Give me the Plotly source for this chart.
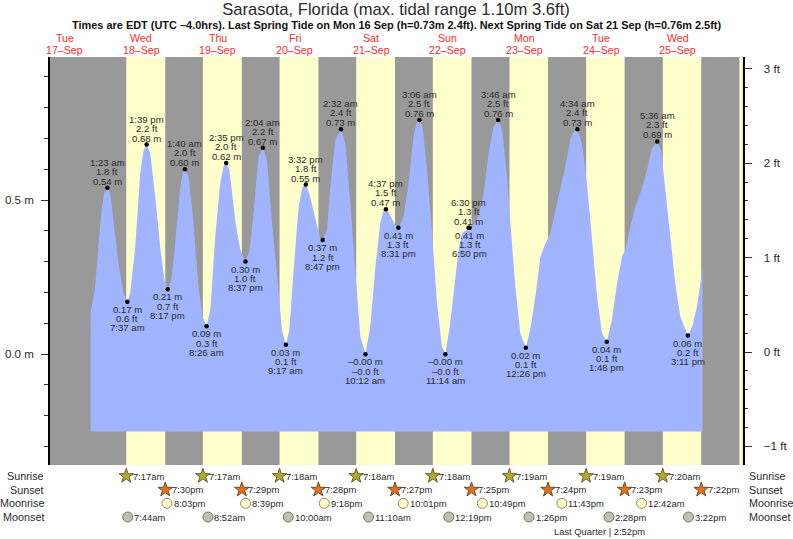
import plotly.graph_objects as go

# time unit: hours since 17 Sep 00:00; heights in metres
tide_h = [20.1,21.55,22.6,23.65,24.4,25.38,26.25,27.3,28.85,30.4,31.62,32.5,34.1,35.65,36.7,37.65,38.78,40.35,41.9,43.25,44.28,45.35,46.6,48.2,49.05,49.67,50.8,52.35,53.9,55.2,56.43,57.6,59.15,60.7,61.75,62.58,63.6,65.4,67,68.62,69.9,71.15,72.7,74.07,75.35,76.9,78.5,80.05,81.28,82.35,83.7,85.25,86.5,87.53,88.6,90.5,92,92.78,94.15,95.2,96.75,98.53,99.9,101.45,103,104.6,106.2,107.7,109.3,110.85,111.9,112.62,113.95,115.5,116.52,118.15,119.7,121.25,122.35,123.1,124.1,125.5,127,128.6,130.15,131.23,132.75,134.35,135.35,136.45,138.5,138.83,140.05,141.6,143.2,144.75,146.3,147.77,149,150.55,151.6,153.15,154.7,156.43,157.8,159.4,161,162.55,164.1,165.7,167.25,168.8,170.35,171.4,172.57,174,175.6,177.15,178.75,180.3,181.8,183.4,185,186.55,187.6,189.15,190.7,192.8,194.4,195.95,197.6,198.8,200.1,201.7,203.25,204.85,207.18,208.55,210.05,211.8]
tide_m = [0.132,0.219,0.36,0.478,0.523,0.54,0.523,0.435,0.295,0.198,0.17,0.198,0.348,0.588,0.66,0.68,0.653,0.511,0.348,0.24,0.21,0.24,0.36,0.543,0.592,0.6,0.576,0.425,0.219,0.121,0.09,0.143,0.381,0.554,0.608,0.62,0.597,0.435,0.338,0.3,0.338,0.458,0.641,0.67,0.63,0.435,0.24,0.078,0.03,0.078,0.273,0.478,0.543,0.55,0.522,0.435,0.376,0.37,0.403,0.543,0.695,0.73,0.685,0.49,0.273,0.056,0.0,0.089,0.283,0.425,0.468,0.47,0.451,0.419,0.41,0.446,0.554,0.706,0.754,0.76,0.738,0.597,0.403,0.166,0.024,0.0,0.1,0.251,0.338,0.393,0.41,0.41,0.419,0.446,0.522,0.652,0.738,0.76,0.727,0.576,0.425,0.219,0.067,0.02,0.078,0.186,0.316,0.359,0.392,0.468,0.532,0.608,0.695,0.722,0.73,0.684,0.554,0.359,0.186,0.067,0.04,0.11,0.23,0.316,0.338,0.413,0.478,0.538,0.597,0.668,0.69,0.662,0.532,0.381,0.23,0.121,0.06,0.089,0.154,0.283]
tide_floor_m = -0.252

ext_h = [25.38,31.62,37.65,44.28,49.67,56.43,62.58,68.62,74.07,81.28,87.53,92.78,98.53,106.2,112.62,116.52,123.1,131.23,138.5,138.83,147.77,156.43,172.57,181.8,197.6,207.18]
ext_m = [0.54,0.17,0.68,0.21,0.60,0.09,0.62,0.30,0.67,0.03,0.55,0.37,0.73,-0.001,0.47,0.41,0.76,-0.001,0.41,0.41,0.76,0.02,0.73,0.04,0.69,0.06]
ext_m_txt = ["0.54 m","0.17 m","0.68 m","0.21 m","0.60 m","0.09 m","0.62 m","0.30 m","0.67 m","0.03 m","0.55 m","0.37 m","0.73 m","–0.00 m","0.47 m","0.41 m","0.76 m","–0.00 m","0.41 m","0.41 m","0.76 m","0.02 m","0.73 m","0.04 m","0.69 m","0.06 m"]
ext_ft_txt = ["1.8 ft","0.6 ft","2.2 ft","0.7 ft","2.0 ft","0.3 ft","2.0 ft","1.0 ft","2.2 ft","0.1 ft","1.8 ft","1.2 ft","2.4 ft","–0.0 ft","1.5 ft","1.3 ft","2.5 ft","–0.0 ft","1.3 ft","1.3 ft","2.5 ft","0.1 ft","2.4 ft","0.1 ft","2.3 ft","0.2 ft"]
ext_time = ["1:23 am","7:37 am","1:39 pm","8:17 pm","1:40 am","8:26 am","2:35 pm","8:37 pm","2:04 am","9:17 am","3:32 pm","8:47 pm","2:32 am","10:12 am","4:37 pm","8:31 pm","3:06 am","11:14 am","6:30 pm","6:50 pm","3:46 am","12:26 pm","4:34 am","1:48 pm","5:36 am","3:11 pm"]
ext_high = [1,0,1,0,1,0,1,0,1,0,1,0,1,0,1,0,1,0,1,0,1,0,1,0,1,0]

day_h = [12,36,60,84,108,132,156,180,204]
day_names = ["Tue","Wed","Thu","Fri","Sat","Sun","Mon","Tue","Wed"]
day_dates = ["17–Sep","18–Sep","19–Sep","20–Sep","21–Sep","22–Sep","23–Sep","24–Sep","25–Sep"]

sunrise_h = [31.28,55.28,79.3,103.3,127.3,151.32,175.32,199.33]
sunrise_t = ["7:17am","7:17am","7:18am","7:18am","7:18am","7:19am","7:19am","7:20am"]
sunset_h = [43.5,67.48,91.47,115.45,139.42,163.4,187.38,211.37]
sunset_t = ["7:30pm","7:29pm","7:28pm","7:27pm","7:25pm","7:24pm","7:23pm","7:22pm"]
moonrise_h = [44.05,68.65,93.3,118.02,142.82,167.72,192.7]
moonrise_t = ["8:03pm","8:39pm","9:18pm","10:01pm","10:49pm","11:43pm","12:42am"]
moonset_h = [31.73,56.87,82.0,107.17,132.32,157.43,182.47,207.37]
moonset_t = ["7:44am","8:52am","10:00am","11:10am","12:19pm","1:26pm","2:28pm","3:22pm"]
row_names = ["Sunrise","Sunset","Moonrise","Moonset"]

day_start_h = sunrise_h + [223.33]
day_end_h = sunset_h + [235.0]

W, H = 793, 539
X0, X1, Y0, Y1 = 49.7, 742.5, 57, 465
TXT = "#2a2a2a"

fig = go.Figure()
fig.add_trace(go.Scatter(x=[tide_h[0], tide_h[-1]], y=[tide_floor_m]*2, mode="lines",
                         line=dict(width=0), hoverinfo="skip", xaxis="x", yaxis="y"))
fig.add_trace(go.Scatter(x=tide_h, y=tide_m, mode="lines", line=dict(width=0, color="#a0b4ff"),
                         fill="tonexty", fillcolor="#a0b4ff", xaxis="x", yaxis="y"))
fig.add_trace(go.Scatter(x=ext_h, y=ext_m, mode="markers", marker=dict(color="black", size=4.5),
                         xaxis="x", yaxis="y"))
# dummy trace so the right hand axis is drawn
fig.add_trace(go.Scatter(x=[ext_h[0]], y=[0], mode="markers", marker=dict(opacity=0), xaxis="x", yaxis="y2"))

def icon(xs, row, symbol, fill, edge, size, width=1):
    fig.add_trace(go.Scatter(x=xs, y=[row]*len(xs), mode="markers", xaxis="x", yaxis="y3",
                             cliponaxis=False,
                             marker=dict(symbol=symbol, size=size, color=fill, line=dict(color=edge, width=width))))

icon(sunrise_h, 0, "star", "#b0a830", "#6e5f28", 11)
icon(sunrise_h, 0, "pentagon", "#b0a830", "#b0a830", 7, 0)
icon(sunset_h, 1, "star", "#e07020", "#6e4a28", 11)
icon(sunset_h, 1, "pentagon", "#e07020", "#e07020", 7, 0)
icon(moonrise_h, 2, "circle", "#ffffcc", "#8a8a70", 10)
icon(moonset_h, 3, "circle", "#c0c0b0", "#77776a", 10)

ann = []
for h, hi, a, b, c in zip(ext_h, ext_high, ext_m_txt, ext_ft_txt, ext_time):
    if hi:
        lines = [(a, 6.5), (b, 16.5), (c, 25.5)]
    else:
        lines = [(a, -7.5), (b, -17), (c, -26)]
    y = ext_m[ext_h.index(h)]
    for t, s in lines:
        ann.append(dict(x=h, y=y, xref="x", yref="y", text=t, showarrow=False, yshift=s,
                        xanchor="center", yanchor="middle", font=dict(size=9.6, color=TXT)))

for h, a, b in zip(day_h, day_names, day_dates):
    for t, py in ((a, 37.5), (b, 50.3)):
        ann.append(dict(x=h, y=1 - py / H, xref="x", yref="paper", text=t, showarrow=False,
                        xanchor="center", yanchor="middle", font=dict(size=10.6, color="#ff2a2a")))

for row, (xs, ts) in enumerate(((sunrise_h, sunrise_t), (sunset_h, sunset_t),
                                (moonrise_h, moonrise_t), (moonset_h, moonset_t))):
    for h, t in zip(xs, ts):
        ann.append(dict(x=h, y=row, xref="x", yref="y3", text=t, showarrow=False, xshift=4.5,
                        xanchor="left", yanchor="middle", font=dict(size=9.4, color=TXT)))
    ann.append(dict(x=45.5 / W, y=row, xref="paper", yref="y3", text=row_names[row], showarrow=False,
                    xanchor="right", yanchor="middle", font=dict(size=10.8, color=TXT)))
    ann.append(dict(x=746.5 / W, y=row, xref="paper", yref="y3", text=row_names[row], showarrow=False,
                    xanchor="left", yanchor="middle", font=dict(size=10.8, color=TXT)))

ann.append(dict(x=599 / W, y=1 - 531 / H, xref="paper", yref="paper", text="Last Quarter | 2:52pm",
                showarrow=False, xanchor="center", yanchor="middle", font=dict(size=9.4, color=TXT)))
ann.append(dict(x=396 / W, y=1 - 25.5 / H, xref="paper", yref="paper",
                text="<b>Times are EDT (UTC –4.0hrs). Last Spring Tide on Mon 16 Sep (h=0.73m 2.4ft). Next Spring Tide on Sat 21 Sep (h=0.76m 2.5ft)</b>",
                showarrow=False, xanchor="center", yanchor="middle", font=dict(size=10.95, color="#111111")))

# grey night background over the main panel only, yellow daylight bands on top of it
shapes = [dict(type="rect", layer="below", xref="x domain", yref="y domain", x0=0, x1=1, y0=0, y1=1,
               fillcolor="#999999", line=dict(width=0))]
shapes += [dict(type="rect", layer="below", xref="x", yref="y domain", x0=a, x1=b, y0=0, y1=1,
                fillcolor="#ffffcc", line=dict(width=0))
           for a, b in zip(day_start_h, day_end_h)]

fig.update_layout(
    width=W, height=H, autosize=False, showlegend=False, hovermode=False,
    margin=dict(l=0, r=0, t=0, b=0), paper_bgcolor="white", plot_bgcolor="white",
    font=dict(family="Liberation Sans, Arial, sans-serif", color=TXT),
    title=dict(text="Sarasota, Florida (max. tidal range 1.10m 3.6ft)", x=396 / W, xanchor="center",
               y=1 - 9.5 / H, yanchor="middle", font=dict(size=16.6, color=TXT)),
    xaxis=dict(domain=[X0 / W, X1 / W], range=[7.3, 224.3], visible=False, fixedrange=True, anchor="y"),
    yaxis=dict(domain=[1 - Y1 / H, 1 - Y0 / H], range=[(354 - Y1) / 308, (354 - Y0) / 308],
               tickmode="linear", tick0=0, dtick=0.5, tickformat=".1f", ticksuffix=" m",
               ticks="outside", ticklen=6.5, tickwidth=1,
               tickcolor="#333333", tickfont=dict(size=11.6, color=TXT), showgrid=False, zeroline=False,
               ticklabelstandoff=5,
               showline=True, linewidth=2, linecolor="black", anchor="x",
               minor=dict(tickmode="linear", tick0=0, dtick=0.1, ticks="outside", ticklen=3.5, tickwidth=1, tickcolor="#333333", showgrid=False)),
    yaxis2=dict(domain=[1 - Y1 / H, 1 - Y0 / H], range=[(352 - Y1) / 94.4, (352 - Y0) / 94.4], overlaying="y",
                side="right", anchor="x", tickmode="linear", tick0=0, dtick=1, ticksuffix=" ft",
                ticks="outside", ticklen=7, tickwidth=1, tickcolor="#333333", tickfont=dict(size=11.6, color=TXT),
                ticklabelstandoff=10,
                showgrid=False, zeroline=False, showline=True, linewidth=2, linecolor="black",
                minor=dict(tickmode="linear", tick0=0, dtick=0.2, ticks="outside", ticklen=3.5, tickwidth=1, tickcolor="#333333", showgrid=False)),
    yaxis3=dict(domain=[0, 72 / H], range=[4.61, -0.66], visible=False, fixedrange=True, anchor="x"),
    annotations=ann, shapes=shapes,
)

fig.write_html("out.html", config={"displayModeBar": False},
               post_script="document.body.style.margin='0';")
